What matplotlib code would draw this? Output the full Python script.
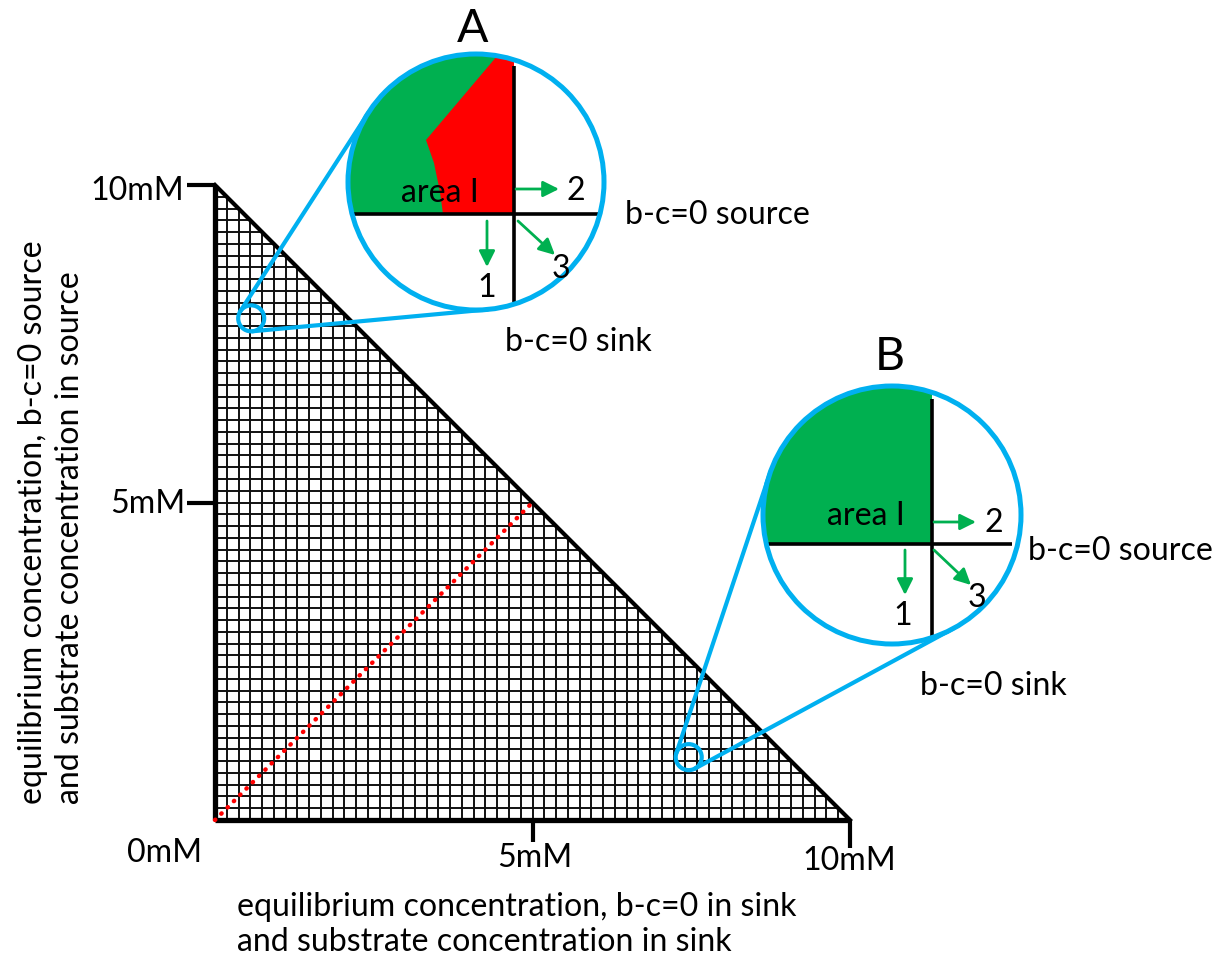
import numpy as np
import matplotlib
matplotlib.use("Agg")
import matplotlib.pyplot as plt
from matplotlib.patches import Circle, Polygon, Rectangle
from matplotlib.collections import LineCollection

plt.rcParams['font.family'] = ['Lato', 'DejaVu Sans']

# ---------------- data ----------------
axis_max = 10                      # mM
tick_values = [0, 5, 10]
tick_labels = ['0mM', '5mM', '10mM']
grid_cells = 54
equal_line_x = [0, 5]
equal_line_y = [0, 5]
zoom_x = [0.57, 7.46]              # small magnified spots (mM)
zoom_y = [7.90, 0.99]
panel_labels = ['A', 'B']
arrow_labels = ['1', '2', '3']
xlabel_lines = ['equilibrium concentration, b-c=0 in sink',
                'and substrate concentration in sink']
ylabel_lines = ['equilibrium concentration, b-c=0 source',
                'and substrate concentration in source']
source_label = 'b-c=0 source'
sink_label = 'b-c=0 sink'
area_label = 'area I'

# ---------------- figure ----------------
W, H = 1215, 961
fig = plt.figure(figsize=(W / 100, H / 100), dpi=100)
fig.patch.set_facecolor('white')

# triangle axes: (0,0) at pixel (215,820), (10,10) at pixel (850,185)
x0p, y0p, x1p, y1p = 215, 820, 850, 185
ax = fig.add_axes([x0p / W, (H - y0p) / H, (x1p - x0p) / W, (y0p - y1p) / H])
ax.set_xlim(0, axis_max)
ax.set_ylim(0, axis_max)
ax.axis('off')

ov = fig.add_axes([0, 0, 1, 1], zorder=5)
ov.set_xlim(0, W)
ov.set_ylim(H, 0)
ov.axis('off')
ov.patch.set_alpha(0)

GREEN = '#00B050'
CYAN = '#00B0F0'
RED = '#FF0000'

# ---- font size fitted to the x-label width ----
renderer = fig.canvas.get_renderer()
probe = ov.text(0, 0, xlabel_lines[0], fontsize=20)
wpx = probe.get_window_extent(renderer).width
FS = 20 * 560 / wpx
probe.remove()

# ---- grid ----
segs = []
for i in range(1, grid_cells):
    v = i * axis_max / grid_cells
    segs.append([(v, 0), (v, axis_max - v)])
    segs.append([(0, v), (axis_max - v, v)])
ax.add_collection(LineCollection(segs, colors='#111111', linewidths=1.4, zorder=1))

# ---- triangle edges ----
ax.plot([0, 0], [0, axis_max], color='black', lw=3.8, solid_capstyle='butt', zorder=3, clip_on=False)
ax.plot([0, axis_max], [0, 0], color='black', lw=3.8, solid_capstyle='butt', zorder=3, clip_on=False)
ax.plot([0, axis_max], [axis_max, 0], color='black', lw=3.0, zorder=3, clip_on=False)

# ---- ticks ----
for v in tick_values[1:]:
    ax.plot([-0.44, 0], [v, v], color='black', lw=3, solid_capstyle='butt', clip_on=False, zorder=3)
ax.plot([5, 5], [0, -0.35], color='black', lw=3, solid_capstyle='butt', clip_on=False, zorder=3)
ax.plot([10, 10], [0, -0.44], color='black', lw=3, solid_capstyle='butt', clip_on=False, zorder=3)

# tick labels (pixel placement)
ov.text(184, 200, tick_labels[2], fontsize=FS, ha='right', va='baseline')
ov.text(185, 513, tick_labels[1], fontsize=FS, ha='right', va='baseline')
ov.text(165, 862, tick_labels[0], fontsize=FS, ha='center', va='baseline')
ov.text(535, 867, tick_labels[1], fontsize=FS, ha='center', va='baseline')
ov.text(849, 870, tick_labels[2], fontsize=FS, ha='center', va='baseline')

# ---- red dotted equal line ----
ax.plot(equal_line_x, equal_line_y, color=RED, lw=3.2, linestyle=(0, (0.1, 1.9)),
        dash_capstyle='round', zorder=4, clip_on=False)

# ---- axis labels ----
ov.text(237, 916, xlabel_lines[0], fontsize=FS, ha='left', va='baseline')
ov.text(237, 951, xlabel_lines[1], fontsize=FS, ha='left', va='baseline')
ov.text(42, 804, ylabel_lines[0], fontsize=FS, ha='left', va='baseline',
        rotation=90, rotation_mode='anchor')
ov.text(79, 804, ylabel_lines[1], fontsize=FS, ha='left', va='baseline',
        rotation=90, rotation_mode='anchor')


def to_pix(x, y):
    dx, dy = ax.transData.transform((x, y))
    return np.array([dx, H - dy])


def ext_tangents(c1, r1, c2, r2):
    d = c2 - c1
    L = np.hypot(*d)
    u = d / L
    th = np.arccos((r2 - r1) / L)
    out = []
    for s in (1, -1):
        c, sn = np.cos(s * th), np.sin(s * th)
        n = np.array([u[0] * c - u[1] * sn, u[0] * sn + u[1] * c])
        out.append((c1 - r1 * n, c2 - r2 * n))
    return out


LW_C = 3.0
# big magnified circles (pixel layout)
big = [
    dict(c=np.array([476.0, 182.0]), r=128, cross=(514, 214), red=True,
         hline=(351, 600), vline=(66, 302),
         a2=((516, 189), (559, 189)), a1=((487, 221), (487, 267)), a3=((518, 221), (555, 255)),
         t2=(576, 200), t1=(487, 297), t3=(561, 278), area=(440, 202),
         src=(625, 224), snk=(505, 351), lab=(473, 42)),
    dict(c=np.array([892.0, 515.0]), r=129, cross=(932, 544), red=False,
         hline=(768, 1012), vline=(399, 636),
         a2=((934, 522), (976, 522)), a1=((905, 550), (905, 595)), a3=((934, 550), (971, 585)),
         t2=(994, 532), t1=(903, 625), t3=(977, 607), area=(866, 525),
         src=(1028, 560), snk=(920, 695), lab=(890, 370)),
]

for k, b in enumerate(big):
    sc = to_pix(zoom_x[k], zoom_y[k])
    rs = 13
    # connecting tangent lines
    for p1, p2 in ext_tangents(sc, rs, b['c'], b['r']):
        ov.plot([p1[0], p2[0]], [p1[1], p2[1]], color=CYAN, lw=LW_C, solid_capstyle='round', zorder=2)
    ov.add_patch(Circle(sc, rs, facecolor='none', edgecolor=CYAN, lw=LW_C, zorder=3))

    cx, cy = b['c']
    r = b['r']
    bg = Circle((cx, cy), r, facecolor='white', edgecolor='none', zorder=4)
    ov.add_patch(bg)
    clip = Circle((cx, cy), r, transform=ov.transData)
    xv, yh = b['cross']
    g = Rectangle((cx - r - 5, cy - r - 5), xv - (cx - r - 5), yh - (cy - r - 5),
                  facecolor=GREEN, edgecolor='none', zorder=5)
    ov.add_patch(g)
    g.set_clip_path(clip)
    if b['red']:
        red = Polygon([(426, 140), (510.6, 40), (xv, 40), (xv, yh), (443, yh),
                       (440, 192), (434, 163)], closed=True, facecolor=RED,
                      edgecolor='none', zorder=6)
        ov.add_patch(red)
        red.set_clip_path(clip)
    ov.plot(b['hline'], [yh, yh], color='black', lw=2.6, zorder=7, solid_capstyle='butt')
    ov.plot([xv, xv], b['vline'], color='black', lw=2.6, zorder=7, solid_capstyle='butt')
    ov.add_patch(Circle((cx, cy), r, facecolor='none', edgecolor=CYAN, lw=LW_C + 0.6, zorder=9))

    for key in ('a1', 'a2', 'a3'):
        s, e = b[key]
        ov.annotate('', xy=e, xytext=s,
                    arrowprops=dict(arrowstyle='-|>,head_length=0.6,head_width=0.3',
                                    color=GREEN, lw=2.0, shrinkA=0, shrinkB=0,
                                    mutation_scale=16), zorder=8)
    ov.text(*b['t1'], arrow_labels[0], fontsize=FS, ha='center', va='baseline', zorder=10)
    ov.text(*b['t2'], arrow_labels[1], fontsize=FS, ha='center', va='baseline', zorder=10)
    ov.text(*b['t3'], arrow_labels[2], fontsize=FS, ha='center', va='baseline', zorder=10)
    ov.text(*b['area'], area_label, fontsize=FS, ha='center', va='baseline', zorder=10)
    ov.text(*b['src'], source_label, fontsize=FS, ha='left', va='baseline', zorder=10)
    ov.text(*b['snk'], sink_label, fontsize=FS, ha='left', va='baseline', zorder=10)
    ov.text(*b['lab'], panel_labels[k], fontsize=FS * 1.45, ha='center', va='baseline', zorder=10)

fig.savefig('out.png', dpi=100, facecolor='white')
